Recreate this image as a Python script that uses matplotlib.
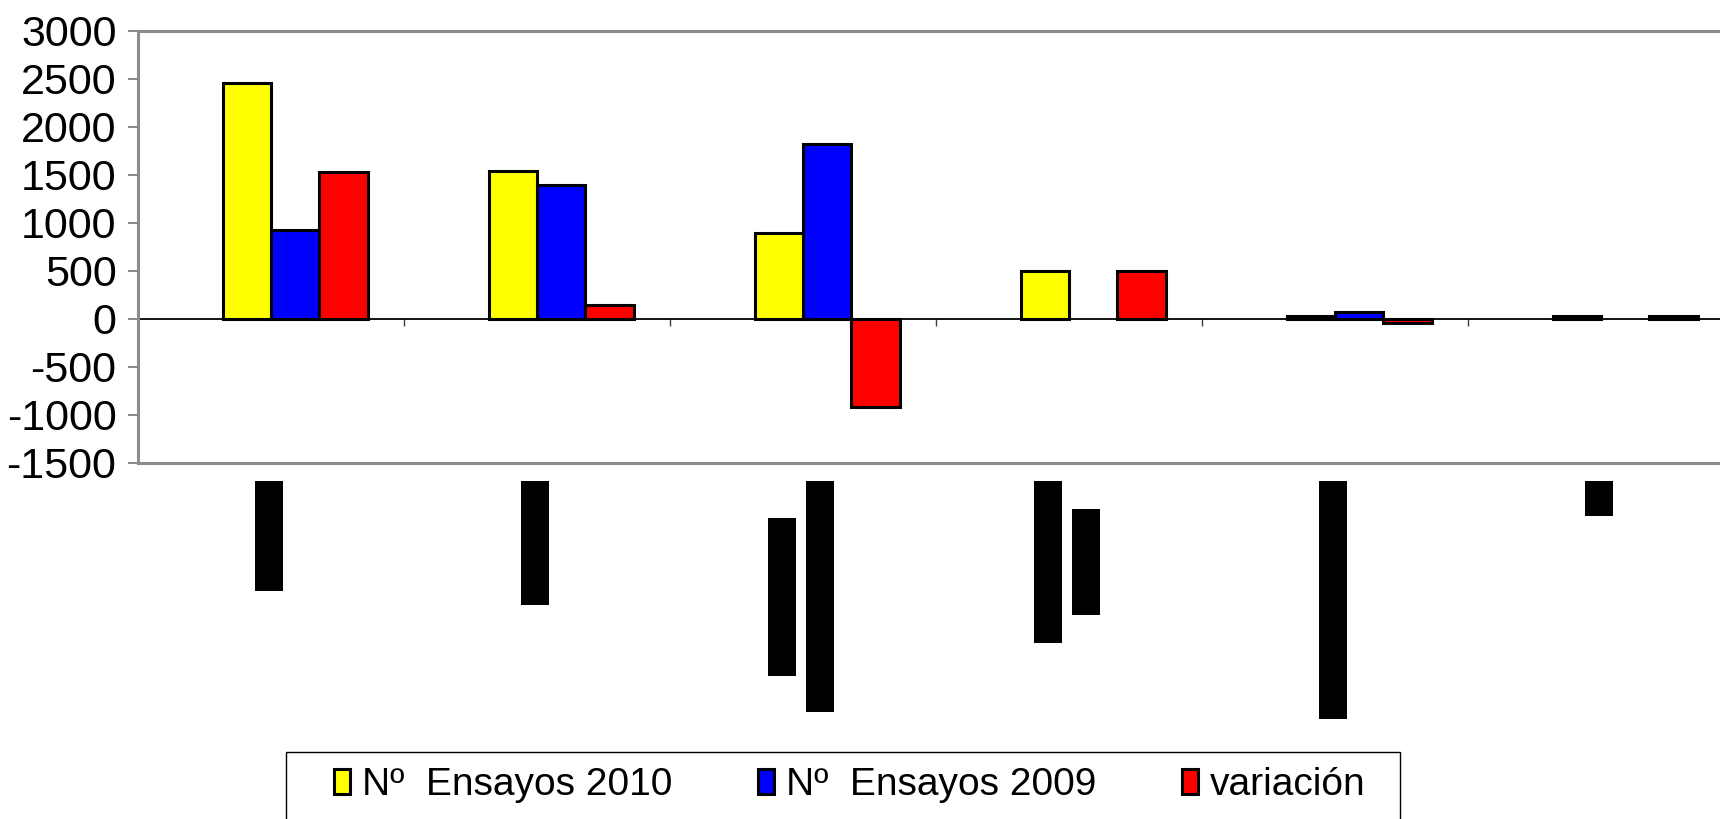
import matplotlib
matplotlib.use("Agg")
import matplotlib.pyplot as plt
from matplotlib.patches import Rectangle, Patch
import numpy as np

# ---------------- data ----------------
categories = ["", "", "", "", "", ""]          # category labels are blacked out in the reference
ensayos_2010 = [2460, 1540, 900, 500, 35, 30]
ensayos_2009 = [930, 1395, 1820, 0, 75, 0]
variacion = [1530, 145, -920, 500, -40, 30]
series_labels = ["Nº  Ensayos 2010", "Nº  Ensayos 2009", "variación"]
series_colors = ["#FFFF00", "#0000FF", "#FF0000"]
y_ticks = [-1500, -1000, -500, 0, 500, 1000, 1500, 2000, 2500, 3000]

# redacted (black) category label lines: length in pixels of each rotated line
label_line_lengths = [[110], [124], [158, 231], [162, 106], [238], [35]]

# ---------------- layout ----------------
W, H = 1720, 819
fig = plt.figure(figsize=(W / 100, H / 100), dpi=100)
plt.rcParams["font.family"] = ["Liberation Sans", "DejaVu Sans"]

ax_left, ax_right, ax_top, ax_bottom = 138, 1734, 31, 463
ax = fig.add_axes([ax_left / W, 1 - ax_bottom / H, (ax_right - ax_left) / W, (ax_bottom - ax_top) / H])

n = len(categories)
x = np.arange(n)
slots = 4                      # first slot is an empty (hidden) series
bw = 1 / (slots + 1.5)
all_series = [ensayos_2010, ensayos_2009, variacion]
for k, (vals, col) in enumerate(zip(all_series, series_colors)):
    off = (k + 1 - (slots - 1) / 2) * bw
    lws = [2.2 if v != 0 else 0 for v in vals]
    ax.bar(x + off, vals, width=bw, color=col, edgecolor="black", linewidth=lws, zorder=2)

ax.set_xlim(-0.5, n - 0.5)
ax.set_ylim(-1500, 3000)
ax.set_yticks(y_ticks)
ax.set_yticklabels([str(v) for v in y_ticks], fontsize=31)
ax.tick_params(axis="y", direction="out", length=7.5, width=1.3, color="#808080", pad=8)
ax.tick_params(axis="x", bottom=False, labelbottom=False)
for s in ["left", "top", "bottom"]:
    ax.spines[s].set_color("#8c8c8c")
    ax.spines[s].set_linewidth(2.2)
ax.spines["right"].set_visible(False)

# zero line with category separator ticks
sec = ax.secondary_xaxis(1500 / 4500)
sec.set_xticks(np.arange(0.5, n - 0.5, 1.0))
sec.tick_params(direction="out", length=5, width=1.0, color="#404040", labelbottom=False, labeltop=False)
for sp in sec.spines.values():
    sp.set_color("black")
    sp.set_linewidth(1.3)

# redacted category labels as black boxes
cat_w = (ax_right - ax_left) / n
box_w = 28
line_gap = 38
top_px = 481
for i, lines in enumerate(label_line_lengths):
    cx = ax_left + (i + 0.5) * cat_w - 2
    m = len(lines)
    maxlen = max(lines)
    cy = top_px + maxlen / 2
    for j, L in enumerate(lines):
        lx = cx + (j - (m - 1) / 2) * line_gap
        x0 = lx - box_w / 2
        y0 = cy - L / 2
        fig.add_artist(Rectangle((x0 / W, 1 - (y0 + L) / H), box_w / W, L / H,
                                 transform=fig.transFigure, facecolor="black", edgecolor="none"))

# legend frame (extends past bottom edge)
fig.add_artist(Rectangle((286 / W, 1 - 840 / H), (1400 - 286) / W, (840 - 752) / H,
                         transform=fig.transFigure, facecolor="white", edgecolor="black",
                         linewidth=1.0, clip_on=False))
handles = [Patch(facecolor=c, edgecolor="black", linewidth=2.2) for c in series_colors]
fig.legend(handles, series_labels, loc="center left", bbox_to_anchor=(334 / W, 1 - 785 / H),
           ncol=3, frameon=False, fontsize=28, borderpad=0, borderaxespad=0,
           handlelength=0.42, handleheight=0.6, handletextpad=0.3, columnspacing=2.2)

fig.savefig("out.png", dpi=100, facecolor="white")
